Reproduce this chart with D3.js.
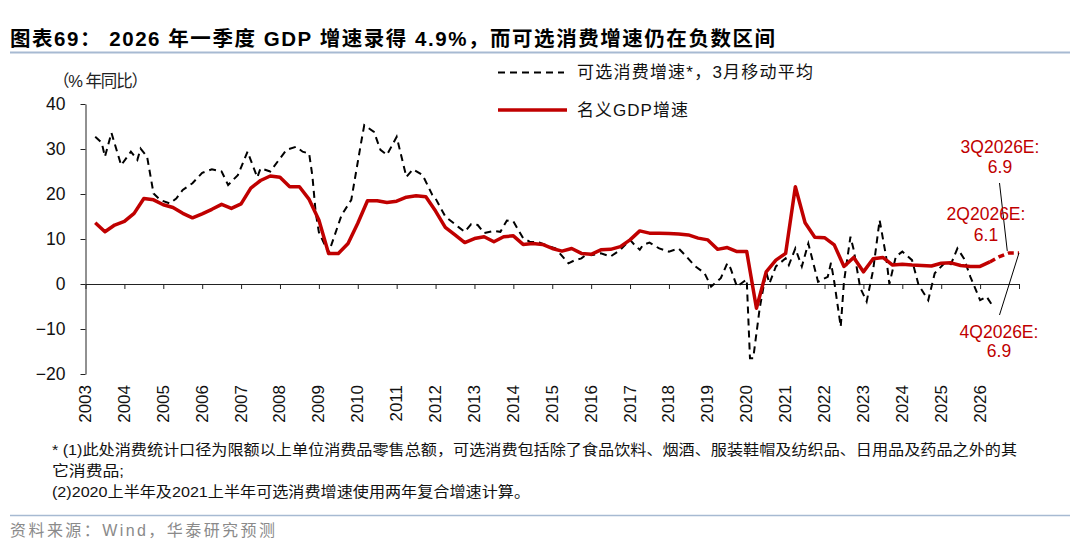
<html>
<script src="https://d3js.org/d3.v7.min.js"></script>
<style>
body { margin: 0; background: #fff; }
svg { font-family: "Liberation Sans", "Noto Sans CJK SC", sans-serif; }
</style>
<body>
<svg width="1080" height="549"></svg>
<script>
// year tick labels on the x axis
var yearLabels = ["2003","2004","2005","2006","2007","2008","2009","2010","2011","2012","2013","2014",
                  "2015","2016","2017","2018","2019","2020","2021","2022","2023","2024","2025","2026"];
var yTicks = [-20, -10, 0, 10, 20, 30, 40];

// nominal GDP yoy, quarterly from 2003Q1 (last three are estimates)
var gdpFirstYear = 2003;
var gdpValues = [
  13.6, 11.6, 13.1, 13.9,
  15.7, 19.0, 18.7, 17.6,
  17.0, 15.7, 14.7, 15.6,
  16.6, 17.7, 16.8, 17.8,
  21.3, 23.0, 24.0, 23.7,
  21.6, 21.6, 18.8, 14.2,
  6.8, 6.8, 9.0, 13.5,
  18.5, 18.5, 18.1, 18.4,
  19.3, 19.6, 19.4, 16.2,
  12.6, 10.9, 9.2, 10.1,
  10.5, 9.4, 10.5, 10.7,
  8.8, 9.0, 8.8, 7.9,
  7.3, 7.9, 6.8, 6.6,
  7.6, 7.7, 8.3, 9.8,
  11.8, 11.3, 11.3, 11.2,
  11.1, 10.9, 10.2, 9.8,
  7.7, 8.1, 7.2, 7.2,
  -5.4, 2.7, 5.3, 6.8,
  21.6, 13.6, 10.4, 10.3,
  8.7, 3.9, 5.9, 2.7,
  5.6, 5.9, 4.2, 4.4,
  4.2, 4.1, 4.0, 4.6,
  4.7, 4.1, 3.9, 3.9,
  4.9, 6.1, 6.9, 6.9
];
var gdpActualCount = 93; // through 1Q2026

// discretionary consumption growth, 3m moving avg (monthly, read at turning points)
var consMonths = [
  "2003-03","2003-05","2003-06","2003-08","2003-11","2004-02","2004-04","2004-05","2004-07","2004-09","2004-11",
  "2005-02","2005-04","2005-06","2005-09","2005-12","2006-03","2006-06","2006-08","2006-11",
  "2007-02","2007-05","2007-06","2007-09","2007-12","2008-02","2008-05","2008-07","2008-09","2008-10","2008-11","2008-12",
  "2009-03","2009-07","2009-10","2010-01","2010-02","2010-05","2010-07","2010-09","2010-12",
  "2011-03","2011-05","2011-08","2011-11","2011-12","2012-03","2012-07","2012-09","2012-11",
  "2013-01","2013-03","2013-06","2013-08","2013-10","2013-12","2014-03","2014-05","2014-08",
  "2015-01","2015-05","2015-07","2015-09","2015-11","2015-12","2016-03","2016-06","2016-09","2016-12",
  "2017-01","2017-03","2017-04","2017-06","2017-09","2017-12","2018-03","2018-05","2018-08","2018-11",
  "2019-01","2019-04","2019-06","2019-07","2019-09","2019-11","2019-12",
  "2020-01","2020-02","2020-04","2020-06","2020-07","2020-09","2020-12",
  "2021-01","2021-03","2021-05","2021-07","2021-10","2022-01","2022-02","2022-03","2022-05","2022-06","2022-08","2022-09","2022-11",
  "2023-01","2023-03","2023-05","2023-07","2023-08","2023-10","2023-12",
  "2024-03","2024-05","2024-08","2024-10","2025-01","2025-03","2025-05","2025-07","2025-09","2025-12",
  "2026-02","2026-04"
];
var consValues = [
  32.7, 31.4, 28.3, 33.6, 26.4, 29.4, 27.6, 30.1, 28.3, 20.1, 18.7,
  17.9, 19.0, 20.9, 22.4, 24.7, 25.5, 25.0, 22.0, 24.2,
  29.4, 23.7, 25.7, 25.0, 27.9, 29.8, 30.5, 29.4, 29.0, 24.0, 16.0, 11.5,
  6.9, 15.3, 18.7, 31.3, 35.3, 33.8, 29.8, 28.7, 32.7,
  23.8, 25.5, 24.2, 19.8, 19.0, 15.0, 12.7, 11.6, 13.3,
  13.1, 11.3, 11.8, 11.6, 14.1, 13.9, 10.2, 9.4, 9.2,
  7.9, 4.6, 5.3, 5.7, 6.8, 6.4, 6.8, 6.1, 7.6, 9.8,
  9.0, 7.6, 8.7, 9.2, 7.9, 7.2, 7.9, 6.4, 4.0, 2.4,
  -0.6, 1.3, 4.6, 3.5, -0.6, 0.5, 1.0,
  -16.5, -16.5, -5.4, 2.7, 0.1, 3.9, 5.7,
  4.2, 7.9, 3.9, 9.0, 0.5, 1.6, 4.7, 0.5, -9.5, 0.5, 10.5, 7.6, -0.8,
  -3.9, 3.1, 14.2, 6.1, 0.0, 6.1, 7.2,
  5.3, -0.2, -3.6, 2.4, 4.6, 4.4, 7.9, 5.7, 1.6, -3.6,
  -2.8, -5.0
];

var red = "#c00000";
var svg = d3.select("svg");

var x = d3.scaleLinear().domain([2003, 2027]).range([85.5, 1019]);
var y = d3.scaleLinear().domain([-20, 40]).range([374, 104]);

// title + rules
svg.append("text").attr("x", 10).attr("y", 46)
  .attr("font-size", 20.5).attr("font-weight", "bold").attr("fill", "#000")
  .attr("textLength", 765).attr("lengthAdjust", "spacing")
  .text("图表69：  2026 年一季度 GDP 增速录得 4.9%，而可选消费增速仍在负数区间");
svg.append("line").attr("x1", 10).attr("x2", 1070).attr("y1", 52.5).attr("y2", 52.5)
  .attr("stroke", "#a7bad2").attr("stroke-width", 2);
svg.append("line").attr("x1", 10).attr("x2", 1070).attr("y1", 515.5).attr("y2", 515.5)
  .attr("stroke", "#a7bad2").attr("stroke-width", 1.5);

svg.append("text").attr("x", 53).attr("y", 87).attr("font-size", 16.5).attr("fill", "#222")
  .attr("textLength", 95).attr("lengthAdjust", "spacing")
  .text("（% 年同比）");

// legend
svg.append("line").attr("x1", 498).attr("x2", 564).attr("y1", 72.5).attr("y2", 72.5)
  .attr("stroke", "#000").attr("stroke-width", 2).attr("stroke-dasharray", "7,5");
svg.append("text").attr("x", 577).attr("y", 78).attr("font-size", 17).attr("fill", "#111")
  .attr("textLength", 236).attr("lengthAdjust", "spacing")
  .text("可选消费增速*，3月移动平均");
svg.append("line").attr("x1", 498).attr("x2", 567).attr("y1", 110).attr("y2", 110)
  .attr("stroke", red).attr("stroke-width", 3.5);
svg.append("text").attr("x", 577).attr("y", 116).attr("font-size", 17).attr("fill", "#111")
  .attr("textLength", 111).attr("lengthAdjust", "spacing")
  .text("名义GDP增速");

// y axis
svg.append("g")
  .attr("transform", "translate(85.5,0)")
  .call(d3.axisLeft(y).tickValues(yTicks).tickSize(5).tickPadding(15).tickSizeOuter(0))
  .call(g => g.select(".domain").attr("stroke", "#222"))
  .call(g => g.selectAll(".tick line").attr("stroke", "#222"))
  .call(g => g.selectAll("text").attr("font-size", 17.5).attr("fill", "#111")
        .attr("font-family", "'Liberation Sans',sans-serif"));

// x axis on zero line, ticks each year, labels at the bottom
svg.append("g")
  .attr("transform", "translate(0," + y(0) + ")")
  .call(d3.axisBottom(x).tickValues(d3.range(2003, 2028)).tickSize(5).tickFormat("").tickSizeOuter(0))
  .call(g => g.select(".domain").attr("stroke", "#222"))
  .call(g => g.selectAll(".tick line").attr("stroke", "#222"));

svg.append("g").selectAll("text")
  .data(yearLabels).enter().append("text")
  .attr("transform", d => "translate(" + (x(+d) + 5.5) + ",385) rotate(-90)")
  .attr("text-anchor", "end")
  .attr("font-size", 17).attr("fill", "#111")
  .text(d => d);

// dashed consumption line
var cons = consMonths.map((m, i) => ({ t: +m.slice(0, 4) + (+m.slice(5, 7)) / 12, v: consValues[i] }));
var line = d3.line().x(d => x(d.t)).y(d => y(d.v));
svg.append("path").datum(cons)
  .attr("d", line).attr("fill", "none")
  .attr("stroke", "#000").attr("stroke-width", 2).attr("stroke-dasharray", "7,5");

// GDP line, solid for actual and dashed for estimates
var gdp = gdpValues.map((v, i) => ({ t: gdpFirstYear + Math.floor(i / 4) + ((i % 4) + 1) / 4, v: v }));
svg.append("path").datum(gdp.slice(0, gdpActualCount))
  .attr("d", line).attr("fill", "none")
  .attr("stroke", red).attr("stroke-width", 3.5).attr("stroke-linejoin", "round");
svg.append("path").datum(gdp.slice(gdpActualCount - 1))
  .attr("d", line).attr("fill", "none")
  .attr("stroke", red).attr("stroke-width", 3.5).attr("stroke-dasharray", "6,4");

// estimate annotations
var q2 = gdp[93], q3 = gdp[94], q4 = gdp[95];
svg.append("line").attr("x1", 999.5).attr("y1", 183).attr("x2", x(q3.t) - 2).attr("y2", y(q3.v) - 2)
  .attr("stroke", "#000").attr("stroke-width", 1);
svg.append("line").attr("x1", 999.5).attr("y1", 315).attr("x2", x(q4.t)).attr("y2", y(q4.v))
  .attr("stroke", "#000").attr("stroke-width", 1);

var notes = [
  { cx: 1000, y1: 153, y2: 173, label: "3Q2026E:", val: q3.v },
  { cx: 986, y1: 220, y2: 241, label: "2Q2026E:", val: q2.v },
  { cx: 999, y1: 338, y2: 357, label: "4Q2026E:", val: q4.v }
];
notes.forEach(n => {
  svg.append("text").attr("x", n.cx).attr("y", n.y1).attr("text-anchor", "middle")
    .attr("font-size", 17.5).attr("fill", red).text(n.label);
  svg.append("text").attr("x", n.cx).attr("y", n.y2).attr("text-anchor", "middle")
    .attr("font-size", 17.5).attr("fill", red).text(n.val.toFixed(1));
});

// footnotes and source
svg.append("text").attr("x", 52).attr("y", 455).attr("font-size", 14.5).attr("fill", "#111")
  .attr("textLength", 965).attr("lengthAdjust", "spacingAndGlyphs")
  .text("* (1)此处消费统计口径为限额以上单位消费品零售总额，可选消费包括除了食品饮料、烟酒、服装鞋帽及纺织品、日用品及药品之外的其");
svg.append("text").attr("x", 52).attr("y", 476).attr("font-size", 14.5).attr("fill", "#111")
  .attr("textLength", 72).attr("lengthAdjust", "spacingAndGlyphs")
  .text("它消费品;");
svg.append("text").attr("x", 52).attr("y", 497).attr("font-size", 14.5).attr("fill", "#111")
  .attr("textLength", 478).attr("lengthAdjust", "spacingAndGlyphs")
  .text("(2)2020上半年及2021上半年可选消费增速使用两年复合增速计算。");
svg.append("text").attr("x", 10).attr("y", 536).attr("font-size", 16).attr("fill", "#8a8a8a")
  .attr("textLength", 265).attr("lengthAdjust", "spacing")
  .text("资料来源：Wind，华泰研究预测");
</script>
</body>
</html>
